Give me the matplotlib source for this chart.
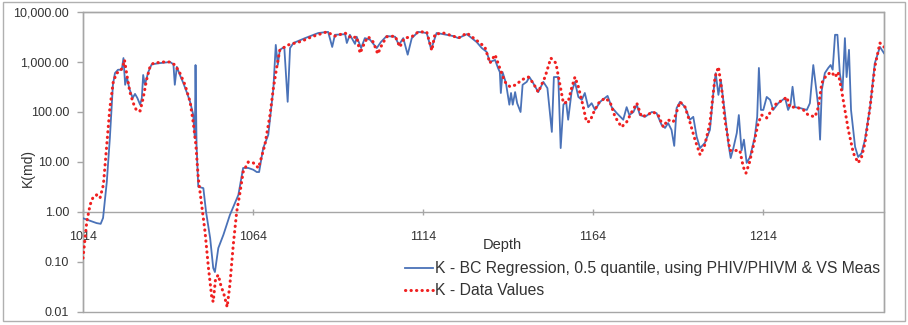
import numpy as np
import matplotlib
matplotlib.use('Agg')
import matplotlib.pyplot as plt
from matplotlib.patches import Rectangle

# K - BC Regression (blue solid line)
depth_bc = [1014.0, 1018.0, 1019.2, 1019.9, 1021.0, 1021.9, 1022.8, 1023.4, 1024.3, 1025.4,
            1025.9, 1026.4, 1026.9, 1027.6, 1028.6, 1029.3, 1030.0, 1030.8, 1031.3, 1031.7,
            1032.2, 1033.2, 1034.2, 1036.6, 1039.6, 1040.6, 1041.0, 1041.6, 1042.5, 1043.5,
            1044.5, 1045.5, 1046.4, 1046.9, 1047.1, 1047.4, 1047.9, 1049.4, 1050.2, 1051.4,
            1052.3, 1052.8, 1053.8, 1055.3, 1057.2, 1059.7, 1061.1, 1062.6, 1064.1, 1065.1,
            1065.8, 1067.0, 1068.5, 1070.0, 1070.7, 1071.3, 1071.9, 1073.2, 1074.2, 1074.9,
            1075.9, 1079.3, 1083.2, 1086.1, 1087.3, 1088.1, 1091.1, 1091.6, 1092.5, 1094.0,
            1094.5, 1095.8, 1096.9, 1098.4, 1100.4, 1101.6, 1103.3, 1105.8, 1106.9, 1108.2,
            1109.5, 1110.7, 1112.6, 1115.1, 1116.4, 1117.5, 1118.0, 1120.0, 1122.9, 1124.4,
            1126.9, 1129.8, 1131.3, 1132.7, 1133.7, 1135.2, 1136.1, 1136.6, 1136.9, 1137.4,
            1138.4, 1139.4, 1139.9, 1140.4, 1141.1, 1141.7, 1142.7, 1143.3, 1144.5, 1145.3,
            1146.4, 1147.9, 1149.4, 1150.6, 1151.9, 1152.5, 1153.8, 1154.5, 1155.3, 1156.1,
            1156.7, 1157.7, 1158.7, 1159.7, 1160.7, 1161.6, 1162.6, 1163.6, 1164.6, 1166.1,
            1167.5, 1168.3, 1169.5, 1171.0, 1172.9, 1173.9, 1174.7, 1175.9, 1176.9, 1177.8,
            1179.3, 1181.3, 1182.7, 1184.2, 1185.2, 1186.1, 1187.1, 1187.9, 1188.6, 1189.6,
            1191.1, 1192.5, 1193.5, 1194.5, 1195.5, 1196.9, 1198.4, 1199.4, 1200.1, 1200.9,
            1201.6, 1202.8, 1203.8, 1204.5, 1205.3, 1206.3, 1206.9, 1207.7, 1208.4, 1209.2,
            1210.2, 1211.6, 1212.3, 1212.8, 1213.4, 1214.1, 1215.1, 1216.1, 1217.0, 1218.5,
            1220.5, 1221.4, 1222.1, 1222.7, 1223.4, 1224.9, 1226.9, 1227.8, 1228.8, 1229.8,
            1230.3, 1230.8, 1231.3, 1232.2, 1233.2, 1233.9, 1234.5, 1235.2, 1235.9, 1236.6,
            1237.4, 1238.1, 1238.6, 1239.3, 1239.9, 1241.1, 1242.0, 1243.0, 1244.0, 1245.5,
            1246.9, 1248.4, 1249.6]
k_bc = [0.75, 0.6, 0.58, 0.76, 4, 30, 350, 600, 700, 700,
        1200, 350, 500, 300, 190, 230, 190, 140, 190, 550,
        350, 630, 900, 950, 1000, 900, 350, 800, 550, 380,
        250, 160, 90, 30, 870, 22, 3.2, 3.0, 1.0, 0.3,
        0.076, 0.063, 0.19, 0.35, 0.87, 2.2, 7.6, 7.6, 7.0, 6.3,
        6.3, 19, 35, 300, 2200, 870, 1750, 2000, 160, 1900,
        2400, 3000, 3800, 4000, 2000, 3500, 3600, 2400, 3500, 2300,
        3200, 1900, 3000, 2800, 1900, 2500, 3300, 3200, 2200, 3000,
        1400, 3000, 4000, 3800, 1800, 3000, 3800, 3600, 3300, 3000,
        3600, 2500, 1900, 1600, 1000, 1100, 750, 630, 240, 630,
        380, 140, 240, 140, 250, 150, 100, 350, 400, 500,
        380, 250, 400, 300, 40, 500, 500, 19, 140, 160,
        70, 250, 400, 200, 175, 240, 125, 150, 110, 160,
        190, 210, 125, 95, 70, 125, 87, 100, 140, 87,
        80, 100, 95, 55, 48, 60, 44, 21, 120, 160,
        125, 70, 80, 32, 19, 24, 44, 240, 600, 220,
        440, 95, 24, 12, 19, 38, 87, 17, 28, 9.6,
        12.6, 32, 80, 760, 110, 110, 200, 175, 110, 150,
        190, 110, 140, 320, 125, 120, 110, 150, 870, 240,
        125, 28, 275, 600, 760, 870, 700, 3500, 3500, 600,
        275, 3000, 500, 1750, 110, 20, 12.6, 15, 28, 125,
        950, 2000, 1500]

# K - Data Values (red dotted line)
depth_data = [1014.0, 1015.1, 1016.1, 1017.0, 1018.0, 1019.0, 1020.0, 1021.0, 1021.9, 1022.9,
              1023.9, 1024.9, 1025.7, 1026.2, 1026.9, 1027.8, 1028.8, 1029.8, 1030.8, 1031.7,
              1032.7, 1033.7, 1034.7, 1037.6, 1039.6, 1041.1, 1042.5, 1044.0, 1045.5, 1046.4,
              1047.2, 1047.9, 1048.9, 1049.9, 1050.9, 1051.9, 1052.3, 1053.0, 1053.8, 1054.5,
              1055.5, 1056.4, 1057.2, 1058.2, 1059.2, 1060.2, 1061.1, 1062.6, 1064.1, 1065.6,
              1066.1, 1067.5, 1069.0, 1070.0, 1071.0, 1071.9, 1074.4, 1078.3, 1081.3, 1085.7,
              1088.1, 1091.1, 1093.0, 1094.5, 1095.5, 1096.9, 1097.9, 1099.4, 1100.7, 1101.9,
              1103.3, 1105.8, 1107.2, 1108.5, 1110.7, 1112.6, 1115.1, 1116.6, 1117.5, 1120.0,
              1122.9, 1124.4, 1126.9, 1129.8, 1132.2, 1133.7, 1135.2, 1136.6, 1138.1, 1139.6,
              1141.4, 1143.0, 1145.0, 1146.4, 1147.9, 1149.9, 1151.6, 1153.1, 1154.3, 1155.3,
              1156.7, 1157.7, 1158.7, 1159.7, 1161.0, 1162.1, 1163.1, 1164.1, 1165.6, 1167.5,
              1169.0, 1170.5, 1172.4, 1173.9, 1175.4, 1176.9, 1178.3, 1179.8, 1181.7, 1183.2,
              1184.7, 1186.0, 1187.6, 1189.6, 1191.1, 1192.5, 1194.0, 1195.5, 1196.9, 1198.4,
              1199.9, 1200.9, 1201.9, 1202.8, 1204.3, 1206.3, 1207.2, 1208.2, 1209.0, 1210.0,
              1211.1, 1212.6, 1213.6, 1215.1, 1216.6, 1218.0, 1220.0, 1221.0, 1221.9, 1223.9,
              1225.9, 1227.3, 1229.3, 1230.3, 1231.3, 1232.7, 1234.2, 1235.2, 1236.1, 1237.1,
              1238.1, 1239.1, 1240.6, 1242.0, 1243.0, 1244.0, 1245.5, 1246.9, 1248.4, 1249.6]
k_data = [0.12, 0.63, 1.4, 2.0, 2.2, 1.9, 3.5, 22, 120, 400,
          600, 650, 800, 1100, 550, 250, 150, 105, 105, 190,
          440, 800, 950, 1000, 1000, 870, 600, 350, 160, 63,
          22, 4.8, 1.4, 0.4, 0.076, 0.019, 0.016, 0.047, 0.055, 0.035,
          0.022, 0.0126, 0.035, 0.22, 1.0, 2.5, 6.3, 10, 9.6, 7.6,
          10, 22, 87, 300, 800, 1750, 2200, 2600, 3200, 4000,
          3300, 3800, 3000, 3200, 1500, 2500, 3200, 2500, 1450, 2200,
          3200, 3300, 2000, 3000, 3200, 4000, 4000, 1700, 3600, 3800,
          3300, 3000, 3800, 2700, 2000, 950, 1400, 750, 400, 320,
          350, 440, 500, 380, 250, 500, 1200, 950, 350, 150,
          160, 300, 500, 320, 140, 63, 65, 95, 150, 190,
          160, 80, 50, 63, 100, 150, 80, 87, 100, 87,
          50, 70, 63, 160, 125, 63, 28, 14, 22, 60,
          500, 800, 275, 70, 17, 17, 17, 8, 6, 9.6,
          20, 60, 87, 76, 110, 150, 175, 200, 125, 125,
          110, 87, 80, 125, 380, 550, 630, 500, 630, 275,
          110, 44, 15, 9.6, 12.6, 24, 125, 800, 2400, 2000]

x_ticks = [1014, 1064, 1114, 1164, 1214]
y_ticks = [0.01, 0.1, 1, 10, 100, 1000, 10000]
label_bc = 'K - BC Regression, 0.5 quantile, using PHIV/PHIVM & VS Meas'
label_data = 'K - Data Values'

plt.rcParams['font.family'] = ['Liberation Sans', 'DejaVu Sans']
txt = '#333333'
gray = '#a6a6a6'

fig = plt.figure(figsize=(9.08, 3.25), dpi=100)
ax = fig.add_axes([83 / 908, 13 / 325, 801 / 908, 300 / 325])

ax.plot(depth_bc, k_bc, '-', color='#4a72b8', lw=1.3, label=label_bc, zorder=3)
ax.plot(depth_data, k_data, color='#f02020', lw=2.2, linestyle=(0, (0.1, 1.7)),
        dash_capstyle='round', label=label_data, zorder=4)

ax.set_yscale('log')
ax.set_ylim(0.01, 10000)
ax.set_xlim(1014, 1249.6)
ax.set_yticks(y_ticks)
ax.set_yticklabels(['{:,.2f}'.format(v) for v in y_ticks])
ax.minorticks_off()
ax.set_xticks(x_ticks)
ax.set_xticklabels([str(v) for v in x_ticks])

# x axis crosses at K = 1
ax.spines['bottom'].set_position(('data', 1))
for s in ['left', 'bottom', 'top', 'right']:
    ax.spines[s].set_color(gray)
    ax.spines[s].set_linewidth(1.0)
ax.add_patch(Rectangle((0, 0), 1, 1, transform=ax.transAxes, fill=False,
                       edgecolor=gray, lw=1.0, clip_on=False, zorder=1))

ax.tick_params(axis='y', length=4, width=1, color=gray, pad=6, labelsize=9, labelcolor=txt)
ax.tick_params(axis='x', length=4, width=1, color=gray, direction='inout', pad=12,
               labelsize=9, labelcolor=txt)

ax.set_ylabel('K(md)', fontsize=10, color=txt)
ax.yaxis.set_label_coords(-0.06, 0.48)
ax.text(0.523, 0.223, 'Depth', transform=ax.transAxes, ha='center', va='center',
        fontsize=10.5, color=txt)

ax.legend(loc='upper left', bbox_to_anchor=(0.402, 0.17), frameon=False, fontsize=11.3,
          handlelength=1.8, handletextpad=0.1, labelspacing=0.45, borderpad=0,
          borderaxespad=0, labelcolor=txt)

# outer chart border
fig.patches.append(Rectangle((0.003, 0.012), 0.994, 0.982, transform=fig.transFigure,
                             fill=False, edgecolor='#b0b0b0', lw=1.0))

fig.savefig('out.png', dpi=100)
